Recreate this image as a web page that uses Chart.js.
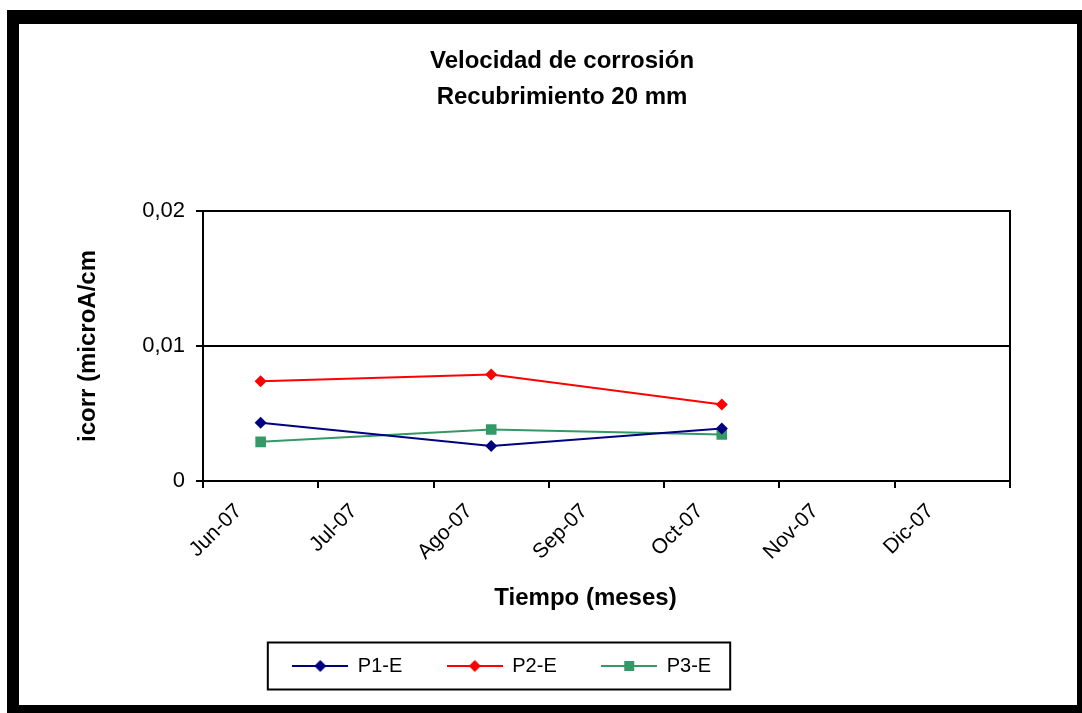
<!DOCTYPE html>
<html>
<head>
<meta charset="utf-8">
<script src="https://cdn.jsdelivr.net/npm/chart.js@4.4.1/dist/chart.umd.min.js"></script>
<style>
  body { margin: 0; background: #fff; }
  #frame {
    position: absolute; left: 7px; top: 10px;
    width: 1075px; height: 703px; box-sizing: border-box;
    border-style: solid; border-color: #000;
    border-width: 14px 5px 8px 12px;
    background: #fff;
  }
  #chart { display: block; }
</style>
</head>
<body>
<div id="frame">
  <canvas id="chart" width="1058" height="681"></canvas>
</div>
<script>
// meses del eje X
const months = ['Jun-07', 'Jul-07', 'Ago-07', 'Sep-07', 'Oct-07', 'Nov-07', 'Dic-07'];

// icorr por probeta (solo hay medidas en Jun, Ago y Oct)
const p1E = [0.00431, null, 0.00259, null, 0.00389, null, null];
const p2E = [0.00739, null, 0.00789, null, 0.00567, null, null];
const p3E = [0.00290, null, 0.00382, null, 0.00345, null, null];

const seriesNames = ['P1-E', 'P2-E', 'P3-E'];
const seriesColors = ['#000080', '#ff0000', '#339966'];
const seriesMarkers = ['rectRot', 'rectRot', 'rect'];
const markerSizes = [6, 6, 7.5];

const yTicks = [0, 0.01, 0.02];
const xTitle = 'Tiempo (meses)';

const FONT = '"Liberation Sans", Arial, sans-serif';

// icono de leyenda: linea con el marcador en el centro
function legendIcon(color, marker) {
  const c = document.createElement('canvas');
  c.width = 56; c.height = 14;
  const g = c.getContext('2d');
  g.strokeStyle = color; g.lineWidth = 2;
  g.beginPath(); g.moveTo(0, 7); g.lineTo(56, 7); g.stroke();
  g.fillStyle = color;
  g.beginPath();
  if (marker === 'rect') {
    g.rect(23, 2, 10, 10);
  } else {
    g.moveTo(28, 1); g.lineTo(34, 7); g.lineTo(28, 13); g.lineTo(22, 7); g.closePath();
  }
  g.fill();
  return c;
}

const extras = {
  id: 'extras',
  afterLayout(chart) {
    // leyenda centrada bajo el grafico como en el original
    const lg = chart.legend;
    const w = lg.width, h = lg.height;
    lg.left = 483 - w / 2; lg.right = lg.left + w;
    lg.top = 587; lg.bottom = lg.top + h;
  },
  beforeDatasetsDraw(chart) {
    const a = chart.chartArea;
    const ctx = chart.ctx;
    ctx.save();
    ctx.strokeStyle = '#000'; ctx.lineWidth = 2;
    ctx.strokeRect(a.left, a.top, a.right - a.left, a.bottom - a.top);
    ctx.restore();
  },
  afterDraw(chart) {
    const ctx = chart.ctx;
    const a = chart.chartArea;
    ctx.save();
    // titulo del eje X (un poco a la izquierda del centro, como en Excel)
    ctx.fillStyle = '#000';
    ctx.font = 'bold 24px ' + FONT;
    ctx.textAlign = 'center';
    ctx.textBaseline = 'middle';
    ctx.fillText(xTitle, (a.left + a.right) / 2 - 21, a.bottom + 117);

    // marco de la leyenda
    const boxes = chart.legend.legendHitBoxes;
    if (boxes && boxes.length) {
      const first = boxes[0], last = boxes[boxes.length - 1];
      const cy = first.top + first.height / 2;
      ctx.strokeStyle = '#000'; ctx.lineWidth = 2;
      ctx.strokeRect(first.left - 25, cy - 23.5, last.left + last.width + 19 - (first.left - 25), 47);
    }
    ctx.restore();
  }
};

const seriesData = [p1E, p2E, p3E];
const datasets = seriesData.map((d, i) => ({
  label: seriesNames[i],
  data: d,
  borderColor: seriesColors[i],
  backgroundColor: seriesColors[i],
  borderWidth: 2,
  pointStyle: seriesMarkers[i],
  pointRadius: markerSizes[i],
  pointBorderWidth: 0,
  spanGaps: true,
  tension: 0
}));

new Chart(document.getElementById('chart'), {
  type: 'line',
  data: { labels: months, datasets: datasets },
  plugins: [extras],
  options: {
    responsive: false,
    animation: false,
    layout: { padding: { left: 95, right: 67, top: 0, bottom: 0 } },
    plugins: {
      title: {
        display: true,
        text: ['Velocidad de corrosión', 'Recubrimiento 20 mm'],
        color: '#000',
        font: { family: FONT, size: 24, weight: 'bold', lineHeight: 1.5 },
        padding: { top: 19, bottom: 96 }
      },
      legend: {
        position: 'bottom',
        labels: {
          color: '#000',
          font: { family: FONT, size: 20 },
          usePointStyle: true,
          pointStyleWidth: 55,
          padding: 45,
          generateLabels: (chart) => chart.data.datasets.map((ds, i) => ({
            text: ds.label,
            pointStyle: legendIcon(ds.borderColor, seriesMarkers[i]),
            fillStyle: ds.borderColor,
            strokeStyle: ds.borderColor,
            fontColor: '#000',
            lineWidth: 0,
            datasetIndex: i
          }))
        }
      },
      tooltip: { enabled: false }
    },
    scales: {
      x: {
        offset: true,
        afterFit: (s) => { s.height = 149; },
        grid: { display: true, offset: true, drawOnChartArea: false, drawTicks: true, tickLength: 7, color: '#000', lineWidth: 2 },
        border: { display: true, color: '#000', width: 2 },
        ticks: { color: '#000', font: { family: FONT, size: 21 }, minRotation: 45, maxRotation: 45, autoSkip: false, labelOffset: -22, padding: 11 },
        title: { display: false }
      },
      y: {
        min: 0,
        max: 0.02,
        afterFit: (s) => { s.width = 89; },
        afterBuildTicks: (s) => { s.ticks = yTicks.map(v => ({ value: v })); },
        grid: { color: '#000', lineWidth: 2, drawTicks: true, tickLength: 7 },
        border: { display: true, color: '#000', width: 2 },
        ticks: {
          color: '#000',
          font: { family: FONT, size: 22 },
          padding: 11,
          callback: (v) => v === 0 ? '0' : v.toFixed(2).replace('.', ',')
        },
        title: { display: true, text: 'icorr (microA/cm', color: '#000', font: { family: FONT, size: 24, weight: 'bold' }, padding: { top: -40, bottom: 0 } }
      }
    }
  }
});
</script>
</body>
</html>
